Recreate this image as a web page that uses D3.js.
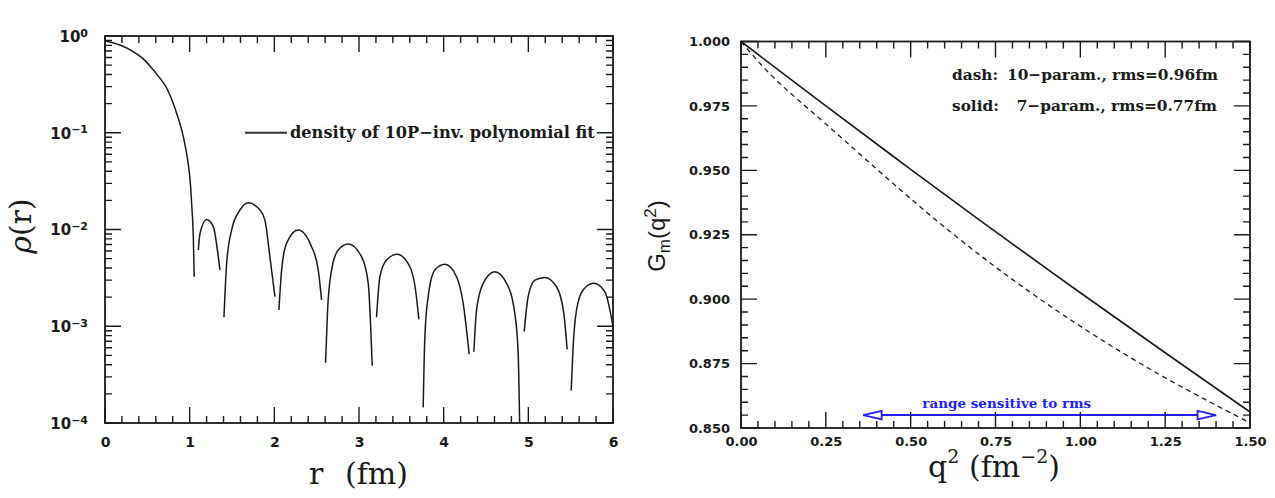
<!DOCTYPE html>
<html><head><meta charset="utf-8">
<script src="https://cdn.jsdelivr.net/npm/d3@7"></script>
<style>
html,body{margin:0;padding:0;background:#fff;}
svg{display:block;}
</style></head><body>
<svg id="c" width="1275" height="498"></svg>
<script>
// ---------------- data: left panel (density, log scale) ----------------
const densityR = [
  [0, 0.177, 0.334, 0.452, 0.531, 0.63, 0.728, 0.846, 0.925, 0.964, 0.984, 1.011, 1.023, 1.035, 1.043, 1.054],
  [1.102, 1.122, 1.2, 1.279, 1.338, 1.358],
  [1.405, 1.437, 1.496, 1.594, 1.692, 1.83, 1.889, 1.948, 2.007],
  [2.054, 2.086, 2.145, 2.282, 2.44, 2.519, 2.558],
  [2.605, 2.629, 2.676, 2.755, 2.873, 3.03, 3.109, 3.156],
  [3.207, 3.247, 3.325, 3.452, 3.601, 3.668, 3.707],
  [3.758, 3.778, 3.817, 3.896, 4.014, 4.152, 4.23, 4.301],
  [4.357, 4.388, 4.467, 4.604, 4.743, 4.84, 4.88, 4.899],
  [4.951, 4.998, 5.077, 5.195, 5.333, 5.419, 5.458],
  [5.506, 5.529, 5.569, 5.647, 5.773, 5.903, 6.0]
];
const densityRho = [
  [0.89, 0.807, 0.689, 0.58, 0.49, 0.385, 0.29, 0.159, 0.091, 0.061, 0.047, 0.028, 0.0187, 0.0126, 0.0084, 0.00325],
  [0.00614, 0.0091, 0.0127, 0.0107, 0.00525, 0.0038],
  [0.00124, 0.00447, 0.00989, 0.0159, 0.0189, 0.0159, 0.0125, 0.0052, 0.00202],
  [0.00147, 0.00381, 0.0072, 0.00989, 0.00664, 0.00381, 0.00187],
  [0.00042, 0.00147, 0.00381, 0.00614, 0.00708, 0.00524, 0.00278, 0.00039],
  [0.00124, 0.00325, 0.00484, 0.00554, 0.00412, 0.00237, 0.00118],
  [0.000145, 0.00078, 0.00202, 0.00381, 0.00437, 0.00325, 0.00173, 0.000516],
  [0.000546, 0.00147, 0.00278, 0.00366, 0.00278, 0.00136, 0.000525, 0.00008],
  [0.00088, 0.00202, 0.003, 0.0032, 0.00256, 0.00136, 0.000578],
  [0.000216, 0.000615, 0.00147, 0.00237, 0.00278, 0.00228, 0.001]
];
const xTicksL = [0, 1, 2, 3, 4, 5, 6];
const yExponentsL = [0, -1, -2, -3, -4];
const legendTextL = "density of 10P\u2212inv. polynomial fit";
const xTitleL = ["r", "(fm)"];

// ---------------- data: right panel (form factor) ----------------
const q2 = [0, 0.1, 0.25, 0.5, 0.75, 1.0, 1.25, 1.5];
const gSolid = [1.000, 0.990, 0.975, 0.9504, 0.9262, 0.9025, 0.8792, 0.8562];
const gDash  = [1.000, 0.9855, 0.968, 0.939, 0.9125, 0.8895, 0.8695, 0.852];
const xTicksR = [0, 0.25, 0.5, 0.75, 1.0, 1.25, 1.5];
const yTicksR = [0.850, 0.875, 0.900, 0.925, 0.950, 0.975, 1.000];
const legendKeysR = ["dash:", "solid:"];
const legendTextsR = ["10\u2212param., rms=0.96fm", "7\u2212param., rms=0.77fm"];
const arrowQ2 = [0.36, 1.40];
const arrowG = 0.855;
const arrowLabel = "range sensitive to rms";
const arrowLabelPos = [0.783, 0.8597];

// ---------------- layout ----------------
const svg = d3.select("#c");
const INK = "#1a1a1a";
const LBL = "'DejaVu Sans', sans-serif";
const SERIF = "'DejaVu Serif', serif";

const xL = d3.scaleLinear().domain([0, 6]).range([105, 613]);
const yL = d3.scaleLog().domain([1e-4, 1]).range([423, 36]);
const xR = d3.scaleLinear().domain([0, 1.5]).range([741, 1250]);
const yR = d3.scaleLinear().domain([0.85, 1.0]).range([428, 41.5]);

const yMinorL = [];
yExponentsL.slice(0, -1).forEach(e => { for (let m = 2; m <= 9; m++) yMinorL.push(m * Math.pow(10, e - 1)); });
const panels = [
  { x: xL, y: yL, xMajor: xTicksL, xMinor: d3.range(0, 6.0001, 0.2),
    yMajor: yExponentsL.map(e => Math.pow(10, e)), yMinor: yMinorL },
  { x: xR, y: yR, xMajor: xTicksR, xMinor: d3.range(0, 1.50001, 0.05),
    yMajor: yTicksR, yMinor: d3.range(0.85, 1.00001, 0.005) }
];

function fit(sel, target) {
  const w = sel.node().getComputedTextLength();
  const fs = +sel.attr("font-size");
  sel.attr("font-size", (fs * target / w).toFixed(2));
  return fs * target / w;
}

// ================= LEFT PANEL =================
svg.append("g").attr("transform", `translate(0,${yL.range()[0]})`)
  .call(d3.axisBottom(xL).tickValues(xTicksL).tickSize(0).tickPadding(14).tickFormat(d3.format("d")))
  .call(g => g.select(".domain").remove())
  .call(g => g.selectAll("text").attr("font-family", LBL).attr("font-weight", "bold")
    .attr("font-size", 14).attr("fill", INK));

const yLab = svg.append("g").attr("transform", `translate(${xL.range()[0]},0)`)
  .call(d3.axisLeft(yL).tickValues(yExponentsL.map(e => Math.pow(10, e))).tickSize(0).tickFormat(""))
  .call(g => g.select(".domain").remove());
yLab.selectAll(".tick").each(function (d) {
  const e = Math.round(Math.log10(d));
  const t = d3.select(this).append("text").attr("x", -17).attr("dy", "0.36em")
    .attr("text-anchor", "end").attr("fill", INK)
    .attr("font-family", LBL).attr("font-weight", "bold").attr("font-size", 15);
  t.append("tspan").text("10");
  t.append("tspan").attr("dy", "-0.48em").attr("font-size", 11).text(e === 0 ? "0" : "\u2212" + Math.abs(e));
});

svg.append("clipPath").attr("id", "clipL").append("rect")
  .attr("x", 105).attr("y", 36).attr("width", 508).attr("height", 387);
const lineL = d3.line().x(d => xL(d[0])).y(d => yL(d[1])).curve(d3.curveMonotoneX);
svg.append("g").attr("clip-path", "url(#clipL)")
  .selectAll("path").data(densityR.map((rs, i) => d3.zip(rs, densityRho[i])))
  .join("path").attr("d", lineL).attr("fill", "none").attr("stroke", INK).attr("stroke-width", 1.5);

const legY = yL(0.1);
svg.append("path").attr("d", `M245,${legY}H287`).attr("stroke", "#333").attr("stroke-width", 2);
const legTL = svg.append("text").attr("x", 290).attr("y", legY).attr("dy", "0.35em")
  .attr("font-family", SERIF).attr("font-weight", "bold").attr("font-size", 14)
  .attr("fill", INK).text(legendTextL);
fit(legTL, 305);

svg.append("text").attr("x", 309).attr("y", 484).attr("font-family", SERIF).attr("font-size", 30)
  .attr("fill", INK).text(xTitleL[0]);
svg.append("text").attr("x", 408).attr("y", 484).attr("text-anchor", "end").attr("font-family", SERIF)
  .attr("font-size", 30).attr("fill", INK).text(xTitleL[1]);
const yTitleL = svg.append("text").attr("transform", "translate(31,226) rotate(-90)")
  .attr("text-anchor", "middle").attr("font-family", SERIF).attr("font-size", 30).attr("fill", INK);
yTitleL.append("tspan").attr("font-style", "italic").text("\u03C1");
yTitleL.append("tspan").text("(r)");

// ================= RIGHT PANEL =================
svg.append("g").attr("transform", `translate(0,${yR.range()[0]})`)
  .call(d3.axisBottom(xR).tickValues(xTicksR).tickSize(0).tickPadding(9).tickFormat(d3.format(".2f")))
  .call(g => g.select(".domain").remove())
  .call(g => g.selectAll("text").attr("font-family", LBL).attr("font-weight", "bold")
    .attr("font-size", 13).attr("fill", INK));
svg.append("g").attr("transform", `translate(${xR.range()[0]},0)`)
  .call(d3.axisLeft(yR).tickValues(yTicksR).tickSize(0).tickPadding(11).tickFormat(d3.format(".3f")))
  .call(g => g.select(".domain").remove())
  .call(g => g.selectAll("text").attr("font-family", LBL).attr("font-weight", "bold")
    .attr("font-size", 13).attr("fill", INK));

const lineR = d3.line().x(d => xR(d[0])).y(d => yR(d[1])).curve(d3.curveNatural);
svg.append("path").datum(d3.zip(q2, gSolid)).attr("d", lineR)
  .attr("fill", "none").attr("stroke", INK).attr("stroke-width", 1.6);
svg.append("path").datum(d3.zip(q2, gDash)).attr("d", lineR)
  .attr("fill", "none").attr("stroke", INK).attr("stroke-width", 1.3).attr("stroke-dasharray", "5,4");

const legYs = [75, 106];
const legEnds = [1218, 1217];
let fsR = 14;
legendTextsR.forEach((t, i) => {
  const tt = svg.append("text").attr("x", legEnds[i]).attr("y", legYs[i]).attr("dy", "0.35em")
    .attr("text-anchor", "end").attr("font-family", SERIF).attr("font-weight", "bold")
    .attr("font-size", 14).attr("fill", INK).text(t);
  if (i === 0) fsR = fit(tt, 211); else tt.attr("font-size", fsR.toFixed(2));
});
legendKeysR.forEach((k, i) => {
  svg.append("text").attr("x", 952).attr("y", legYs[i]).attr("dy", "0.35em")
    .attr("font-family", SERIF).attr("font-weight", "bold").attr("font-size", fsR.toFixed(2))
    .attr("fill", INK).text(k);
});

const BLUE = "#1f1fff";
const ay = yR(arrowG), ax0 = xR(arrowQ2[0]), ax1 = xR(arrowQ2[1]);
const hl = 18.5, hw = 4.2;
svg.append("path").attr("d", `M${ax0 + hl},${ay}H${ax1 - hl}`).attr("stroke", BLUE).attr("stroke-width", 2);
svg.append("path").attr("d", `M${ax0},${ay}L${ax0 + hl},${ay - hw}L${ax0 + hl},${ay + hw}Z`)
  .attr("fill", "#fff").attr("stroke", BLUE).attr("stroke-width", 1.8);
svg.append("path").attr("d", `M${ax1},${ay}L${ax1 - hl},${ay - hw}L${ax1 - hl},${ay + hw}Z`)
  .attr("fill", "#fff").attr("stroke", BLUE).attr("stroke-width", 1.8);
const arrT = svg.append("text").attr("x", xR(arrowLabelPos[0])).attr("y", yR(arrowLabelPos[1]))
  .attr("dy", "0.35em").attr("text-anchor", "middle").attr("font-family", SERIF)
  .attr("font-weight", "bold").attr("font-size", 11).attr("fill", BLUE).text(arrowLabel);
fit(arrT, 169);

const qt = svg.append("text").attr("x", 928).attr("y", 477).attr("font-family", SERIF)
  .attr("font-size", 30).attr("fill", INK);
qt.append("tspan").text("q");
qt.append("tspan").attr("dy", -14).attr("font-size", 19).text("2");
const ft = svg.append("text").attr("x", 1060).attr("y", 477).attr("text-anchor", "end")
  .attr("font-family", SERIF).attr("font-size", 30).attr("fill", INK);
ft.append("tspan").text("(fm");
ft.append("tspan").attr("dy", -14).attr("font-size", 19).text("\u22122");
ft.append("tspan").attr("dy", 14).text(")");

const gt = svg.append("text").attr("transform", "translate(665,236) rotate(-90)")
  .attr("text-anchor", "middle").attr("font-family", "'Liberation Sans', Arial, sans-serif")
  .attr("font-size", 24).attr("fill", INK);
gt.append("tspan").text("G");
gt.append("tspan").attr("dy", 5).attr("font-size", 17).text("m");
gt.append("tspan").attr("dy", -5).text("(q");
gt.append("tspan").attr("dy", -9).attr("font-size", 17).text("2");
gt.append("tspan").attr("dy", 9).text(")");

// ================= frames and inward ticks (drawn last) =================
panels.forEach(p => {
  const [x0, x1] = p.x.range();
  const [y0, y1] = p.y.range();
  const segs = [];
  [[p.xMinor, 7], [p.xMajor, 16]].forEach(([vals, len]) => vals.forEach(v => {
    const px = p.x(v);
    segs.push(`M${px},${y0}V${y0 - len}`, `M${px},${y1}V${y1 + len}`);
  }));
  [[p.yMinor, 7], [p.yMajor, 16]].forEach(([vals, len]) => vals.forEach(v => {
    const py = p.y(v);
    segs.push(`M${x0},${py}H${x0 + len}`, `M${x1},${py}H${x1 - len}`);
  }));
  const g = svg.append("g");
  g.append("path").attr("d", segs.join("")).attr("fill", "none")
    .attr("stroke", INK).attr("stroke-width", 1.4);
  g.append("rect").attr("x", x0).attr("y", y1).attr("width", x1 - x0).attr("height", y0 - y1)
    .attr("fill", "none").attr("stroke", INK).attr("stroke-width", 1.8);
});
</script>
</body></html>
